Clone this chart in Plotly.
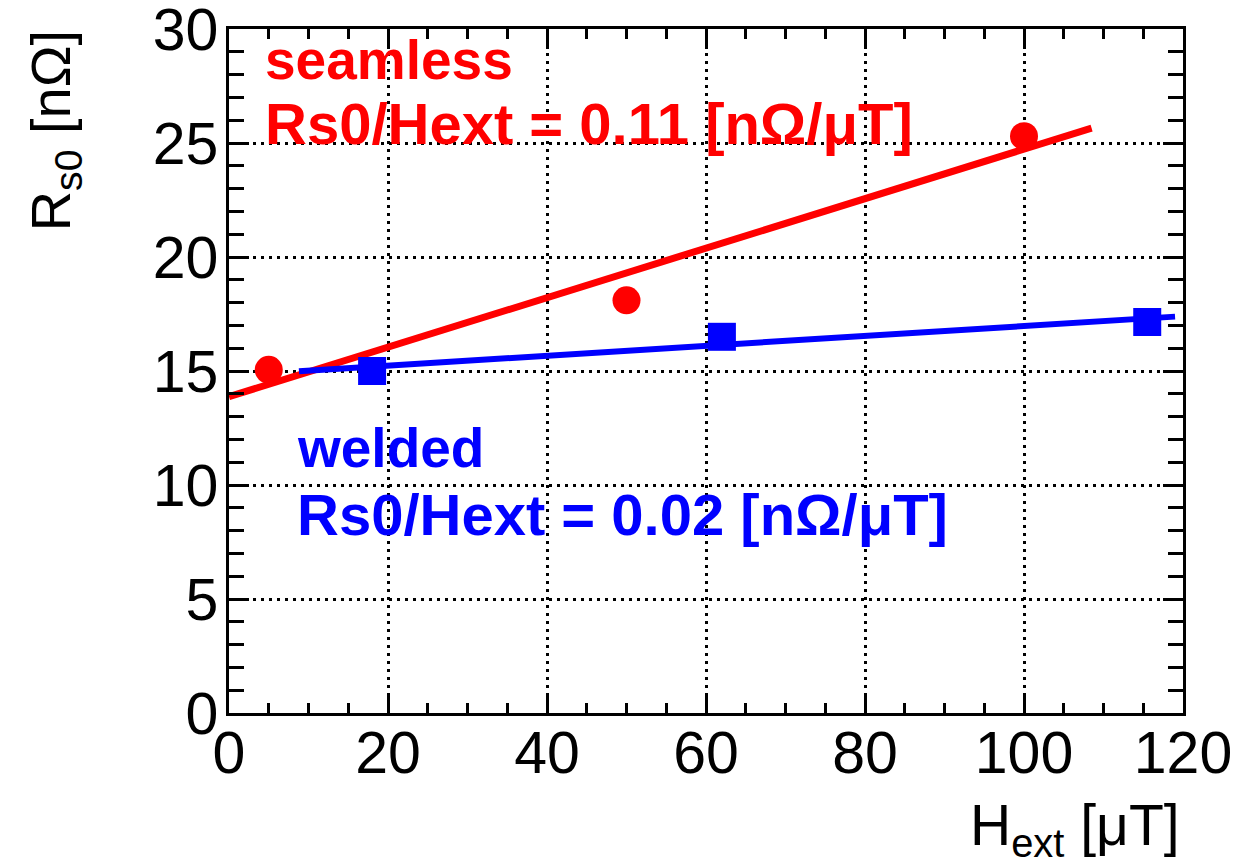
import numpy as np
import plotly.graph_objects as go

# Measured residual resistance vs. external field
seamless_h = [5.0, 50.0, 100.0]
seamless_rs0 = [15.05, 18.1, 25.3]
welded_h = [18.0, 62.0, 115.5]
welded_rs0 = [15.0, 16.5, 17.15]

# Range over which each linear fit is drawn
seamless_fit_range = [0.0, 108.5]
welded_fit_range = [8.8, 119.0]

x_ticks = [0, 20, 40, 60, 80, 100, 120]
y_ticks = [0, 5, 10, 15, 20, 25, 30]

RED = "#ff0000"
BLUE = "#0000ff"
FONT = "Liberation Sans, Arial, sans-serif"

s_slope, s_icpt = np.polyfit(seamless_h, seamless_rs0, 1)
w_slope, w_icpt = np.polyfit(welded_h, welded_rs0, 1)

fig = go.Figure()

sx = np.array(seamless_fit_range)
wx = np.array(welded_fit_range)
fig.add_trace(go.Scatter(x=sx, y=s_icpt + s_slope * sx, mode="lines",
                         line=dict(color=RED, width=7), showlegend=False))
fig.add_trace(go.Scatter(x=wx, y=w_icpt + w_slope * wx, mode="lines",
                         line=dict(color=BLUE, width=6), showlegend=False))
fig.add_trace(go.Scatter(x=seamless_h, y=seamless_rs0, mode="markers",
                         marker=dict(symbol="circle", size=28, color=RED, line=dict(width=0)),
                         showlegend=False))
fig.add_trace(go.Scatter(x=welded_h, y=welded_rs0, mode="markers",
                         marker=dict(symbol="square", size=28, color=BLUE, line=dict(width=0)),
                         showlegend=False))

axis_common = dict(
    showline=True, linecolor="black", linewidth=2.5, mirror="ticks",
    ticks="inside", tickcolor="black", tickwidth=2.5,
    showgrid=True, gridcolor="black", gridwidth=2.5, griddash="3px,5px",
    zeroline=False, ticklabeloverflow="allow", automargin=False,
    tickfont=dict(family=FONT, size=59, color="black"),
)

fig.update_xaxes(range=[0, 120], tickvals=x_ticks, ticklen=20, ticklabelstandoff=-14,
                 minor=dict(dtick=5, ticks="inside", ticklen=10, tickcolor="black",
                            tickwidth=2.5, showgrid=False),
                 **axis_common)
fig.update_yaxes(range=[0, 30], tickvals=y_ticks, ticklen=20, ticklabelstandoff=-4,
                 minor=dict(dtick=1, ticks="inside", ticklen=15, tickcolor="black",
                            tickwidth=2.5, showgrid=False),
                 **axis_common)

text_font_red = dict(family=FONT, size=55, color=RED)
text_font_blue = dict(family=FONT, size=55, color=BLUE)
formula_red = dict(family=FONT, size=58, color=RED)
formula_blue = dict(family=FONT, size=58, color=BLUE)

PW, PH = 954, 684
fig.add_annotation(xref="paper", yref="paper", x=(263 - 229) / PW, y=(713 - 60) / PH,
                   xanchor="left", yanchor="middle", showarrow=False,
                   text="<b>seamless</b>", font=text_font_red)
fig.add_annotation(xref="paper", yref="paper", x=(263 - 229) / PW, y=(713 - 124) / PH,
                   xanchor="left", yanchor="middle", showarrow=False,
                   text=f"<b>Rs0/Hext = {s_slope:.2f} [nΩ/μT]</b>", font=formula_red)
fig.add_annotation(xref="paper", yref="paper", x=(295 - 229) / PW, y=(713 - 448) / PH,
                   xanchor="left", yanchor="middle", showarrow=False,
                   text="<b>welded</b>", font=text_font_blue)
fig.add_annotation(xref="paper", yref="paper", x=(295 - 229) / PW, y=(713 - 514) / PH,
                   xanchor="left", yanchor="middle", showarrow=False,
                   text=f"<b>Rs0/Hext = {w_slope:.2f} [nΩ/μT]</b>", font=formula_blue)

# Axis titles
fig.add_annotation(xref="paper", yref="paper", x=(1182 - 229) / PW, y=-0.17,
                   xanchor="right", yanchor="middle", showarrow=False,
                   text="H<sub>ext</sub> [μT]",
                   font=dict(family=FONT, size=57, color="black"))
fig.add_annotation(xref="paper", yref="paper", x=-0.182, y=(713 - 27) / PH,
                   xanchor="center", yanchor="top", textangle=-90, showarrow=False,
                   text="R<sub>s0</sub> [nΩ]",
                   font=dict(family=FONT, size=56, color="black"))

fig.update_layout(
    width=1234, height=867,
    margin=dict(l=229, r=51, t=29, b=154),
    paper_bgcolor="white", plot_bgcolor="white",
    showlegend=False,
)

fig.write_html("out.html")
